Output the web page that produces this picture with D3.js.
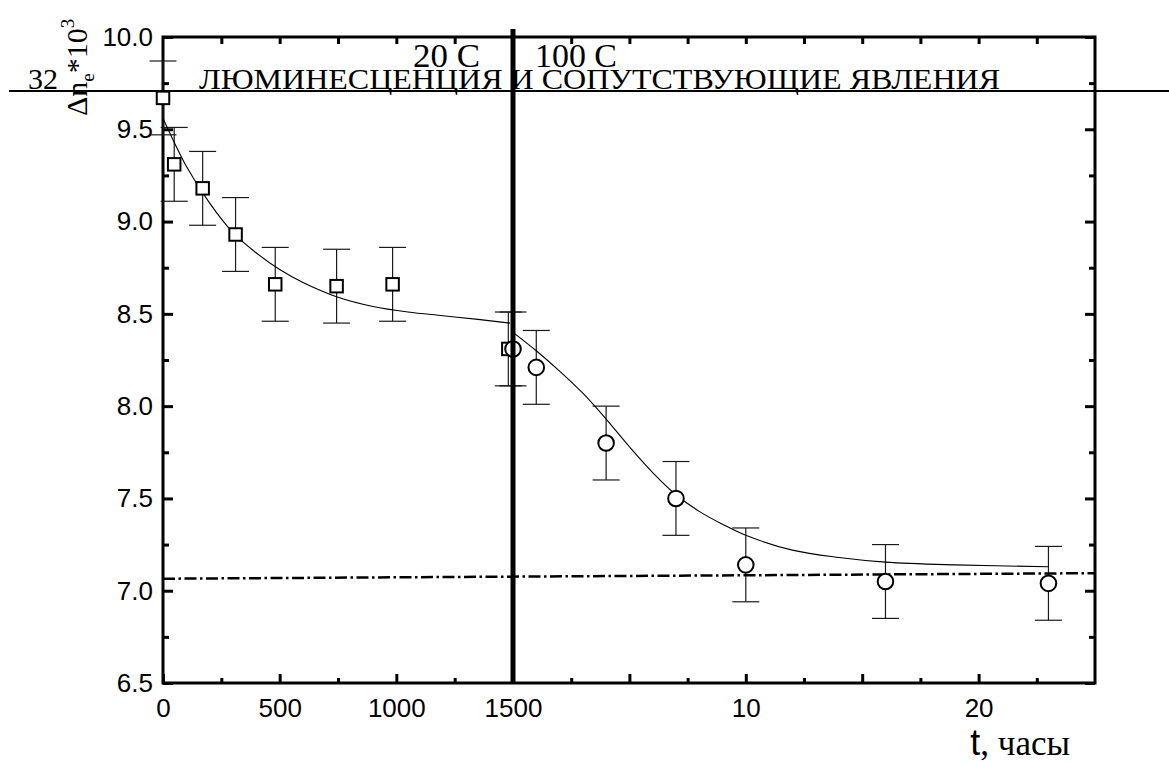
<!DOCTYPE html>
<html>
<head>
<meta charset="utf-8">
<script src="https://cdn.jsdelivr.net/npm/d3@7"></script>
<style>
  html, body { margin: 0; padding: 0; background: #fff; }
  svg { display: block; }
  .tick text { font-family: "Liberation Sans", Arial, sans-serif; font-size: 26px; fill: #000; }
</style>
</head>
<body>
<svg id="chart" width="1169" height="763"></svg>
<script>
// Room-temperature stage (20 C), time axis in the left segment
const roomTimes  = [0, 48, 170, 311, 481, 744, 984, 1480];
const roomValues = [9.67, 9.31, 9.18, 8.93, 8.66, 8.65, 8.66, 8.31];
const roomErrors = [0.2, 0.2, 0.2, 0.2, 0.2, 0.2, 0.2, 0.2];

// Annealing stage (100 C), time in hours in the right segment
const hotTimes  = [0, 1, 4, 7, 10, 16, 23];
const hotValues = [8.31, 8.21, 7.80, 7.50, 7.14, 7.05, 7.04];
const hotErrors = [0.2, 0.2, 0.2, 0.2, 0.2, 0.2, 0.2];

// Fitted curves
const roomFitTimes  = [0, 100, 200, 300, 400, 500, 600, 750, 900, 1050, 1200, 1350, 1487];
const roomFitValues = [9.56, 9.30, 9.10, 8.94, 8.83, 8.74, 8.67, 8.59, 8.54, 8.51, 8.49, 8.47, 8.45];
const hotFitTimes  = [0, 1, 2, 3, 4, 5, 6, 7, 8, 9, 10, 12, 14, 16, 19, 23];
const hotFitValues = [8.40, 8.30, 8.19, 8.07, 7.93, 7.78, 7.64, 7.52, 7.43, 7.36, 7.30, 7.22, 7.18, 7.155, 7.14, 7.13];

// Limiting level (dash-dot line), from the left edge to the right edge
const limitLeft  = 7.065;
const limitRight = 7.095;

// Tick labels
const yTickValues     = [6.5, 7.0, 7.5, 8.0, 8.5, 9.0, 9.5, 10.0];
const roomTickLabels  = [0, 500, 1000, 1500];
const hotTickLabels   = [10, 20];
const stageLabels     = ["20 C", "100 C"];

const svg = d3.select("#chart");
const serif = "'Liberation Serif', 'Times New Roman', serif";
const sans  = "'Liberation Sans', Arial, sans-serif";

const plotLeft = 163, plotRight = 1095, plotTop = 37, plotBottom = 683, brk = 513;

const y  = d3.scaleLinear().domain([6.5, 10]).range([plotBottom, plotTop]);
const xL = d3.scaleLinear().domain([0, 1500]).range([plotLeft, brk]);
const xR = d3.scaleLinear().domain([0, 25]).range([brk, plotRight]);

const axisW = 3;
function styleAxis(g) {
  g.select(".domain").remove();
  g.selectAll(".tick line").attr("stroke", "#000").attr("stroke-width", axisW);
}

// Left and right axes
const yMinor = d3.range(6.75, 10, 0.5);
svg.append("g").attr("transform", `translate(${plotLeft},0)`)
  .call(d3.axisLeft(y).tickValues(yTickValues).tickFormat(d3.format(".1f")).tickSize(-10).tickPadding(10))
  .call(styleAxis);
svg.append("g").attr("transform", `translate(${plotLeft},0)`)
  .call(d3.axisLeft(y).tickValues(yMinor).tickFormat("").tickSize(-6))
  .call(styleAxis);
svg.append("g").attr("transform", `translate(${plotRight},0)`)
  .call(d3.axisRight(y).tickValues(yTickValues).tickFormat("").tickSize(-10))
  .call(styleAxis);
svg.append("g").attr("transform", `translate(${plotRight},0)`)
  .call(d3.axisRight(y).tickValues(yMinor).tickFormat("").tickSize(-6))
  .call(styleAxis);

// Bottom axis: left segment
svg.append("g").attr("transform", `translate(0,${plotBottom})`)
  .call(d3.axisBottom(xL).tickValues(roomTickLabels).tickFormat(d3.format("d")).tickSize(-9).tickPadding(16))
  .call(styleAxis);
svg.append("g").attr("transform", `translate(0,${plotBottom})`)
  .call(d3.axisBottom(xL).tickValues([250, 750, 1250]).tickFormat("").tickSize(-5))
  .call(styleAxis);
// Bottom axis: right segment
svg.append("g").attr("transform", `translate(0,${plotBottom})`)
  .call(d3.axisBottom(xR).tickValues([5, 10, 15, 20])
    .tickFormat(d => hotTickLabels.includes(d) ? d : "").tickSize(-9).tickPadding(16))
  .call(styleAxis);
svg.append("g").attr("transform", `translate(0,${plotBottom})`)
  .call(d3.axisBottom(xR).tickValues([2.5, 7.5, 12.5, 17.5, 22.5]).tickFormat("").tickSize(-5))
  .call(styleAxis);

// Top axis
svg.append("g").attr("transform", `translate(0,${plotTop})`)
  .call(d3.axisTop(xL).tickValues([250, 500, 750, 1000, 1250]).tickFormat("").tickSize(-7))
  .call(styleAxis);
svg.append("g").attr("transform", `translate(0,${plotTop})`)
  .call(d3.axisTop(xR).tickValues(d3.range(2.5, 25, 2.5)).tickFormat("").tickSize(-7))
  .call(styleAxis);

// Frame
svg.append("rect")
  .attr("x", plotLeft).attr("y", plotTop)
  .attr("width", plotRight - plotLeft).attr("height", plotBottom - plotTop)
  .attr("fill", "none").attr("stroke", "#000").attr("stroke-width", axisW);

// Data tables
const room = roomTimes.map((t, i) => ({ x: xL(t), v: roomValues[i], e: roomErrors[i] }));
const hot  = hotTimes.map((t, i) => ({ x: xR(t), v: hotValues[i], e: hotErrors[i] }));
const capHalf = 13.5;

// Error bars
const errG = svg.append("g").attr("stroke", "#1a1a1a").attr("stroke-width", 1.2).attr("fill", "none");
[...room, ...hot].forEach(d => {
  const y0 = y(d.v - d.e), y1 = y(d.v + d.e);
  errG.append("line").attr("x1", d.x).attr("x2", d.x).attr("y1", y0).attr("y2", y1);
  errG.append("line").attr("x1", d.x - capHalf).attr("x2", d.x + capHalf).attr("y1", y0).attr("y2", y0);
  errG.append("line").attr("x1", d.x - capHalf).attr("x2", d.x + capHalf).attr("y1", y1).attr("y2", y1);
});

// Fitted curves
const roomFit = roomFitTimes.map((t, i) => [xL(t), y(roomFitValues[i])]);
const hotFit  = hotFitTimes.map((t, i) => [xR(t), y(hotFitValues[i])]);
const line = d3.line().curve(d3.curveCatmullRom.alpha(0.5));
svg.append("path").attr("d", line(roomFit)).attr("fill", "none").attr("stroke", "#000").attr("stroke-width", 1.1);
svg.append("path").attr("d", line(hotFit)).attr("fill", "none").attr("stroke", "#000").attr("stroke-width", 1.1);

// Limiting level
svg.append("line")
  .attr("x1", xL(0)).attr("y1", y(limitLeft))
  .attr("x2", xR(25)).attr("y2", y(limitRight))
  .attr("stroke", "#000").attr("stroke-width", 2.5)
  .attr("stroke-dasharray", "12,3.5,2.5,3.5");

// Markers
const sq = 12.5;
svg.append("g").selectAll("rect").data(room).join("rect")
  .attr("x", d => d.x - sq / 2).attr("y", d => y(d.v) - sq / 2)
  .attr("width", sq).attr("height", sq)
  .attr("fill", "#fff").attr("stroke", "#000").attr("stroke-width", 2);
svg.append("g").selectAll("circle").data(hot).join("circle")
  .attr("cx", d => d.x).attr("cy", d => y(d.v)).attr("r", 7.8)
  .attr("fill", "#fff").attr("stroke", "#000").attr("stroke-width", 2);

// Break between the two stages
svg.append("line")
  .attr("x1", brk).attr("x2", brk).attr("y1", 29).attr("y2", plotBottom + 1)
  .attr("stroke", "#000").attr("stroke-width", 5);

// Stage labels
svg.append("text").attr("x", 413).attr("y", 67)
  .attr("font-family", serif).attr("font-size", 34)
  .attr("textLength", 67).attr("lengthAdjust", "spacingAndGlyphs")
  .text(stageLabels[0]);
svg.append("text").attr("x", 535).attr("y", 67)
  .attr("font-family", serif).attr("font-size", 34)
  .attr("textLength", 82).attr("lengthAdjust", "spacingAndGlyphs")
  .text(stageLabels[1]);

// Running header
svg.append("line").attr("x1", 9).attr("x2", 1169).attr("y1", 91).attr("y2", 91)
  .attr("stroke", "#000").attr("stroke-width", 2);
svg.append("text").attr("x", 28).attr("y", 89)
  .attr("font-family", serif).attr("font-size", 30).text("32");
svg.append("text").attr("x", 199).attr("y", 89)
  .attr("font-family", serif).attr("font-size", 30)
  .attr("textLength", 801).attr("lengthAdjust", "spacingAndGlyphs")
  .text("ЛЮМИНЕСЦЕНЦИЯ И СОПУТСТВУЮЩИЕ ЯВЛЕНИЯ");

// Y axis title
const yt = svg.append("text")
  .attr("transform", "translate(87,116) rotate(-90)")
  .attr("font-family", serif).attr("font-size", 30);
yt.append("tspan").text("Δn");
yt.append("tspan").attr("font-size", 19).attr("dy", 7).text("e");
yt.append("tspan").attr("dy", -7).text("*10");
yt.append("tspan").attr("font-size", 19).attr("dy", -13).text("3");

// X axis title
const xt = svg.append("text").attr("x", 1070).attr("y", 755).attr("text-anchor", "end");
xt.append("tspan").attr("font-family", sans).attr("font-size", 36).text("t");
xt.append("tspan").attr("font-family", serif).attr("font-size", 35).text(", часы");
</script>
</body>
</html>
